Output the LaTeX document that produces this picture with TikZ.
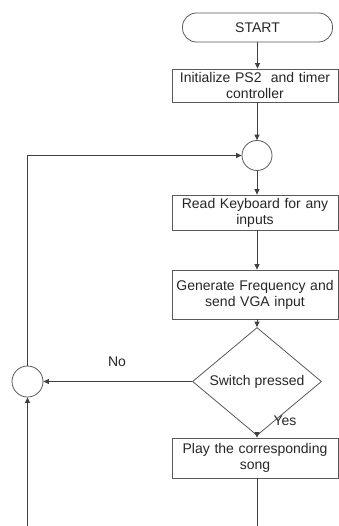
\documentclass[tikz,border=0pt]{standalone}
\usepackage{fontspec}
\setmainfont{Liberation Sans}
\usetikzlibrary{shapes.geometric,arrows.meta}
\begin{document}
\begin{tikzpicture}[x=1pt,y=-1pt,
  every node/.style={font=\fontsize{14pt}{16pt}\selectfont, text=black!85},
  line/.style={draw=black!75, line width=0.8pt},
  arr/.style={line, -{Triangle[length=5.5pt,width=5pt]}},
  stepbox/.style={draw=black!65, line width=0.8pt, minimum width=166pt, inner sep=0pt, align=center, text width=164pt},
  terminal/.style={draw=black!65, line width=0.8pt, rounded corners=14pt, minimum width=150pt, minimum height=29pt, inner sep=0pt},
  junction/.style={circle, draw=black!65, line width=0.8pt, minimum size=30pt, inner sep=0pt},
  decision/.style={diamond, draw=black!65, line width=0.8pt, minimum width=129pt, minimum height=71pt, inner sep=0pt}
]
\useasboundingbox (0,0) rectangle (339,526);

\node[terminal] (start) at (257.5,27.5) {START};
\node[stepbox, minimum height=33pt] (init) at (255,85.5) {Initialize PS2\ \ and timer\\controller};
\node[junction] (j1) at (257,155.5) {};
\node[stepbox, minimum height=35pt] (read) at (255,212.5) {Read Keyboard for any\\inputs};
\node[stepbox, minimum height=49pt] (gen) at (255,294.5) {Generate Frequency and\\send VGA input};
\node[decision] (dec) at (257,381.5) {Switch pressed};
\node[stepbox, minimum height=40pt] (play) at (255,458) {Play the corresponding\\song};
\node[junction, minimum size=31pt] (j2) at (27.5,381.5) {};

\coordinate (endR) at (257,527);
\coordinate (endL) at (27.5,527);

\draw[arr] (start.south) -- (start.south |- init.north);
\draw[arr] (j1 |- init.south) -- (j1.north);
\draw[arr] (j1.south) -- (j1.south |- read.north);
\draw[arr] (j1 |- read.south) -- (j1 |- gen.north);
\draw[arr] (dec |- gen.south) -- (dec.north);
\draw[arr] (dec.south) -- (dec.south |- play.north);
\draw[arr] (dec.west) -- (j2.east);
\draw[arr] (j2.north) |- (j1.west);
\draw[line] (dec |- play.south) -- (endR);
\draw[arr] (endL) -- (j2.south);

\node (no) at (117,362) {No};
\node (yes) at (285,421) {Yes};
\end{tikzpicture}
\end{document}
